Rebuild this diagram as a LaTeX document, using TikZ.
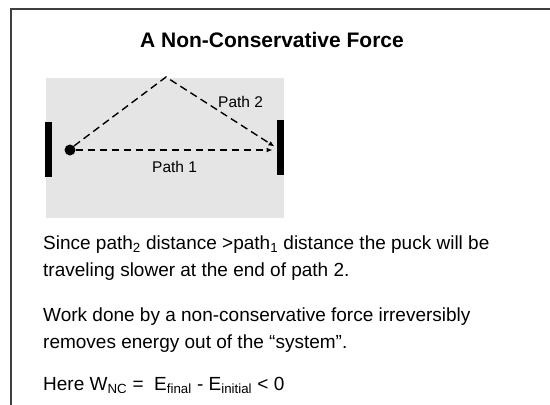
\documentclass[tikz,border=0pt]{standalone}
\usepackage{fontspec}
\setmainfont{Liberation Sans}
\usetikzlibrary{arrows.meta}
\usepackage{xcolor}
\definecolor{tablegray}{HTML}{E5E5E5}
\definecolor{framegray}{HTML}{404040}

\begin{document}
\begin{tikzpicture}[x=1pt, y=-1pt, >={Latex[length=6pt,width=5pt]},
  wall/.style={rectangle, fill=black, inner sep=0pt, minimum width=7pt, minimum height=55pt},
  puckdot/.style={circle, fill=black, inner sep=0pt, minimum size=11pt},
  lbl/.style={anchor=base west, inner sep=0pt, font=\fontsize{15.5}{18}\selectfont},
  para/.style={anchor=base west, align=left, inner sep=0pt, font=\fontsize{19}{26.5}\selectfont},
  track/.style={->, dashed, dash pattern=on 7.5pt off 4.5pt, draw=black}
]
\useasboundingbox (0,0) rectangle (550,405);
\draw[framegray, line width=1.5pt] (11,405) -- (11,9) -- (550,9);
\node[anchor=base, font=\fontsize{21}{24}\selectfont\bfseries] (title) at (272,47.5) {A Non-Conservative Force};
\fill[tablegray] (46,78) rectangle (284,218);
\node[wall] (lwall) at (48.5,149.5) {};
\node[wall] (rwall) at (280.5,147.5) {};
\node[puckdot] (puck) at (70,150) {};
\coordinate (apex) at (166,77);
\coordinate (hit1) at (272.5,150);
\coordinate (hit2) at (274.5,146.5);
\draw[track, line width=2pt] (puck) -- (hit1);
\draw[track, line width=1.4pt] (puck.north east) -- (apex) -- (hit2);
\node[lbl] (path2) at (218,107) {Path 2};
\node[lbl] (path1) at (152,172) {Path 1};
\node[para] (since) at (43,276) {Since path\textsubscript{2} distance >path\textsubscript{1} distance the puck will be\\traveling slower at the end of path 2.};
\node[para] (work) at (43,348) {Work done by a non-conservative force irreversibly\\removes energy out of the “system”.};
\node[para] (here) at (43,390) {Here W\textsubscript{NC} =~ E\textsubscript{final} - E\textsubscript{initial} < 0};
\end{tikzpicture}
\end{document}
